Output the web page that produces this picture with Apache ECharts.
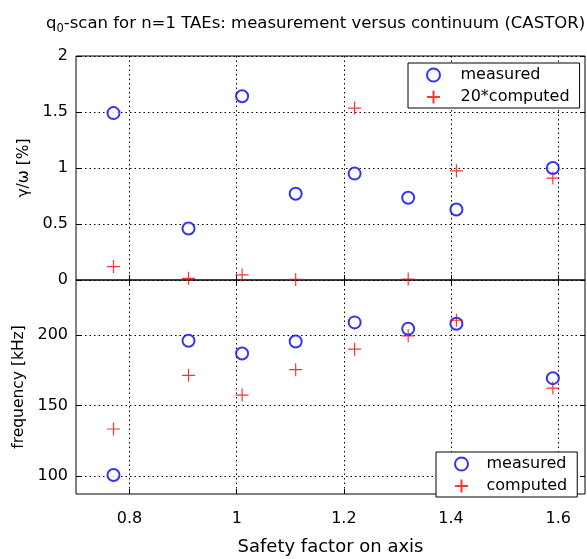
<!DOCTYPE html>
<html><head><meta charset="utf-8">
<script src="https://cdn.jsdelivr.net/npm/echarts@6/dist/echarts.min.js"></script>
<style>html,body{margin:0;padding:0;background:#fff}#c{width:587px;height:559px}</style>
</head><body><div id="c"></div>
<script>
// ---- data ----
const safetyFactor = [0.77, 0.91, 1.01, 1.11, 1.22, 1.32, 1.41, 1.59];
const growthMeasured = [1.49, 0.46, 1.64, 0.77, 0.95, 0.735, 0.63, 1.0];
const growthComputed20 = [0.12, 0.015, 0.045, 0.005, 1.535, 0.008, 0.975, 0.91];
const freqMeasured = [101, 196, 187, 195.5, 209, 204.5, 208, 169.5];
const freqComputed = [133.5, 171.5, 157.5, 175.5, 190, 199.5, 210.5, 162.5];
const xTicks = [0.8, 1, 1.2, 1.4, 1.6];
const growthTicks = [0, 0.5, 1, 1.5, 2];
const freqTicks = [100, 150, 200];
const legendTop = ['measured', '20*computed'];
const legendBottom = ['measured', 'computed'];

const FONT = "'DejaVu Sans', Verdana, sans-serif";
const PLUS = 'path://M0,5L10,5M5,0L5,10';
const pairs = (xs, ys) => xs.map((x, i) => [x, ys[i]]);

const gridLine = { show: true, lineStyle: { color: '#000', width: 1, type: [1.5, 3] } };
function tickIn(vals) {
  return { show: true, inside: true, length: 5, customValues: vals, lineStyle: { color: '#000', width: 1 } };
}

function xAx(grid, pos, labels, split) {
  return {
    type: 'value', gridIndex: grid, position: pos, min: 0.7, max: 1.65,
    axisLine: { show: false }, axisTick: tickIn(xTicks),
    axisLabel: { show: labels, customValues: xTicks, fontSize: 16, color: '#000', fontFamily: FONT, margin: 17 },
    splitLine: split ? gridLine : { show: false },
    name: labels ? 'Safety factor on axis' : '', nameLocation: 'middle', nameGap: 44,
    nameTextStyle: { fontSize: 18, color: '#000', fontFamily: FONT }
  };
}
function yAx(grid, pos, min, max, ticks, labels, split, name) {
  return {
    type: 'value', gridIndex: grid, position: pos, min: min, max: max,
    axisLine: { show: false }, axisTick: tickIn(ticks),
    axisLabel: { show: labels, customValues: ticks, fontSize: 16, color: '#000', fontFamily: FONT, margin: 8 },
    splitLine: split ? gridLine : { show: false },
    name: name, nameLocation: 'middle', nameGap: 41,
    nameTextStyle: { fontSize: 15.5, color: '#000', fontFamily: FONT }
  };
}

const circleStyle = { color: '#0000ff', borderColor: '#0000ff', borderWidth: 1.5 };
const plusStyle = { color: '#ff0000', borderColor: '#ff0000', borderWidth: 1.2 };

const option = {
  animation: false,
  backgroundColor: '#fff',
  title: {
    text: 'q{sub|0}-scan for n=1 TAEs: measurement versus continuum (CASTOR)',
    left: 41, top: 8,
    textStyle: {
      fontSize: 16.5, fontWeight: 'normal', color: '#000', fontFamily: FONT,
      rich: { sub: { fontSize: 11.5, fontFamily: FONT, color: '#000', padding: [10, 0, 0, 0] } }
    }
  },
  grid: [
    { left: 76, top: 56, width: 509, height: 224, show: true, borderColor: '#000', borderWidth: 1, backgroundColor: '#fff', outerBoundsMode: 'none', containLabel: false },
    { left: 76, top: 280, width: 509, height: 214, show: true, borderColor: '#000', borderWidth: 1, backgroundColor: 'transparent', outerBoundsMode: 'none', containLabel: false }
  ],
  xAxis: [
    xAx(0, 'bottom', false, true),
    xAx(0, 'top', false, false),
    xAx(1, 'bottom', true, true),
    xAx(1, 'top', false, false)
  ],
  yAxis: [
    yAx(0, 'left', 0, 2, growthTicks, true, true, 'γ/ω [%]'),
    yAx(0, 'right', 0, 2, growthTicks, false, false, ''),
    yAx(1, 'left', 87.5, 239, freqTicks, true, true, 'frequency [kHz]'),
    yAx(1, 'right', 87.5, 239, freqTicks, false, false, '')
  ],
  legend: [
    {
      data: [{ name: legendTop[0], icon: 'emptyCircle' }, { name: legendTop[1], icon: PLUS }],
      left: 408, top: 63, orient: 'vertical', selectedMode: false,
      borderColor: '#000', borderWidth: 1, backgroundColor: '#fff', borderRadius: 0,
      padding: [2, 10, 1, 18], itemGap: 2, itemWidth: 44, itemHeight: 13,
      textStyle: { fontSize: 16, lineHeight: 20, color: '#000', fontFamily: FONT }
    },
    {
      data: [{ name: legendBottom[0], icon: 'emptyCircle' }, { name: legendBottom[1], icon: PLUS }],
      left: 436, top: 452, orient: 'vertical', selectedMode: false,
      borderColor: '#000', borderWidth: 1, backgroundColor: '#fff', borderRadius: 0,
      padding: [2, 10, 1, 18], itemGap: 2, itemWidth: 40, itemHeight: 13,
      textStyle: { fontSize: 16, lineHeight: 20, color: '#000', fontFamily: FONT }
    }
  ],
  series: [
    { name: legendTop[0], type: 'scatter', xAxisIndex: 0, yAxisIndex: 0, symbol: 'emptyCircle', symbolSize: 12,
      itemStyle: circleStyle, data: pairs(safetyFactor, growthMeasured) },
    { name: legendTop[1], type: 'scatter', xAxisIndex: 0, yAxisIndex: 0, symbol: PLUS, symbolSize: 13,
      itemStyle: plusStyle, data: pairs(safetyFactor, growthComputed20) },
    { name: legendBottom[0], type: 'scatter', xAxisIndex: 2, yAxisIndex: 2, symbol: 'emptyCircle', symbolSize: 12,
      itemStyle: circleStyle, data: pairs(safetyFactor, freqMeasured) },
    { name: legendBottom[1], type: 'scatter', xAxisIndex: 2, yAxisIndex: 2, symbol: PLUS, symbolSize: 13,
      itemStyle: plusStyle, data: pairs(safetyFactor, freqComputed) }
  ]
};
const chart = echarts.init(document.getElementById('c'), null, { renderer: 'canvas' });
chart.setOption(option);
</script></body></html>
